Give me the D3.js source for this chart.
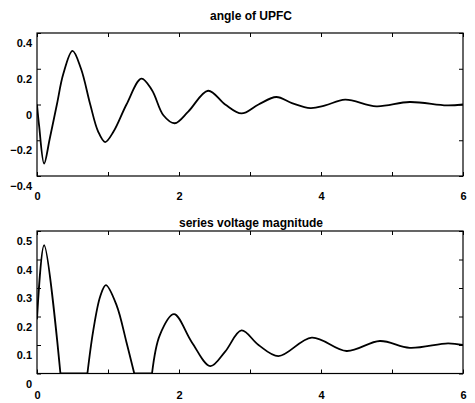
<!DOCTYPE html>
<html>
<head>
<meta charset="utf-8">
<script src="https://cdn.jsdelivr.net/npm/d3@7"></script>
<style>
    body { margin: 0; background: #fff; }
    svg { display: block; }
    .frame { fill: none; stroke: #000; stroke-width: 1.2; }
    .trace { fill: none; stroke: #000; stroke-width: 1.8; stroke-linejoin: round; }
    .tick line, .domain { stroke: #000; }
    .tick text { font-family: "Liberation Sans", Arial, sans-serif; font-size: 11px; font-weight: bold; fill: #000; }
    .title { font-family: "Liberation Sans", Arial, sans-serif; font-size: 12px; font-weight: bold; fill: #000; }
</style>
</head>
<body>
<script>
// ------------------------------------------------------------
// UPFC response: angle and series voltage magnitude vs time
// values
// ------------------------------------------------------------

// angle of UPFC
var angleT = [0, 0.03, 0.10, 0.18, 0.28, 0.37, 0.50, 0.62, 0.75, 0.86, 0.96, 1.08, 1.26, 1.47, 1.62, 1.78,
              1.94, 2.13, 2.41, 2.65, 2.88, 3.12, 3.37, 3.59, 3.85, 4.06, 4.34, 4.78, 5.25, 5.77, 6.00];
var angleV = [0, -0.12, -0.33, -0.19, 0.00, 0.17, 0.30, 0.20, 0.00, -0.15, -0.21, -0.15, 0.00, 0.145, 0.08, -0.06,
              -0.105, -0.04, 0.077, 0.00, -0.05, 0.00, 0.042, 0.008, -0.02, -0.005, 0.027, -0.01, 0.014, -0.005, 0.00];

// series voltage magnitude (sits on zero between the first lobes)
var magT = [0, 0.10, 0.33, 0.71, 0.79, 0.89, 0.97, 1.12, 1.26, 1.37, 1.62, 1.73, 1.93, 2.18, 2.44, 2.65,
            2.88, 3.12, 3.40, 3.87, 4.36, 4.83, 5.25, 5.79, 6.00];
var magV = [0.19, 0.45, 0.00, 0.00, 0.147, 0.27, 0.31, 0.24, 0.11, 0.00, 0.00, 0.135, 0.208, 0.11, 0.026, 0.077,
            0.151, 0.10, 0.061, 0.126, 0.079, 0.114, 0.09, 0.106, 0.10];

var xTicks = [0, 1, 2, 3, 4, 5, 6];
var xLabels = [0, 2, 4, 6];
var angleTicks = [-0.4, -0.2, 0, 0.2, 0.4];
var magTicks = [0, 0.1, 0.2, 0.3, 0.4, 0.5];

var w = 475, h = 403;
var svg = d3.select("body").append("svg")
    .attr("width", w)
    .attr("height", h);

var x0 = 37, x1 = 463;

function fmt(d) {
    return d3.format("")(+d.toFixed(1));
}

// split a trace where it runs flat on zero, so each lobe keeps its kink
function pieces(ts, vs) {
    var out = [], cur = [[ts[0], vs[0]]];
    for (var i = 1; i < ts.length; i++) {
        if (vs[i] === 0 && vs[i - 1] === 0) {
            out.push(cur);
            out.push([[ts[i - 1], 0], [ts[i], 0]]);
            cur = [];
        }
        cur.push([ts[i], vs[i]]);
    }
    out.push(cur);
    return out.filter(function(p) { return p.length > 1; });
}

function panel(id, top, bottom, ydom, yticks, ts, vs, title, titleY, xpad) {
    var x = d3.scaleLinear().domain([0, 6]).range([x0, x1]);
    var y = d3.scaleLinear().domain(ydom).range([bottom, top]);

    svg.append("clipPath").attr("id", id)
        .append("rect")
        .attr("x", x0).attr("y", top)
        .attr("width", x1 - x0).attr("height", bottom - top);

    // bottom axis: ticks every 1, labels on even values
    var gb = svg.append("g")
        .attr("transform", "translate(0," + bottom + ")")
        .call(d3.axisBottom(x).tickValues(xTicks).tickSize(-4).tickPadding(xpad)
            .tickFormat(function(d) { return xLabels.indexOf(d) >= 0 ? d : ""; }));
    gb.select(".domain").remove();

    svg.append("g")
        .attr("transform", "translate(0," + top + ")")
        .call(d3.axisTop(x).tickValues(xTicks).tickSize(-4).tickFormat(""))
        .select(".domain").remove();

    var gl = svg.append("g")
        .attr("transform", "translate(" + x0 + ",0)")
        .call(d3.axisLeft(y).tickValues(yticks).tickSize(-4).tickPadding(5).tickFormat(fmt));
    gl.select(".domain").remove();
    gl.selectAll(".tick text").attr("y", 10);

    svg.append("g")
        .attr("transform", "translate(" + x1 + ",0)")
        .call(d3.axisRight(y).tickValues(yticks).tickSize(-4).tickFormat(""))
        .select(".domain").remove();

    svg.append("rect")
        .attr("class", "frame")
        .attr("x", x0).attr("y", top)
        .attr("width", x1 - x0).attr("height", bottom - top);

    var line = d3.line()
        .x(function(d) { return x(d[0]); })
        .y(function(d) { return y(d[1]); })
        .curve(d3.curveCatmullRom.alpha(0.5));

    svg.append("g")
        .attr("clip-path", "url(#" + id + ")")
        .selectAll("path")
        .data(pieces(ts, vs))
        .enter().append("path")
        .attr("class", "trace")
        .attr("d", line);

    svg.append("text")
        .attr("class", "title")
        .attr("x", (x0 + x1) / 2 + 1)
        .attr("y", titleY)
        .attr("text-anchor", "middle")
        .text(title);
}

panel("clipA", 33, 176, [-0.4, 0.4], angleTicks, angleT, angleV, "angle of UPFC", 20, 16);
panel("clipB", 231, 373.5, [0, 0.5], magTicks, magT, magV, "series voltage magnitude", 227, 17.5);
</script>
</body>
</html>
